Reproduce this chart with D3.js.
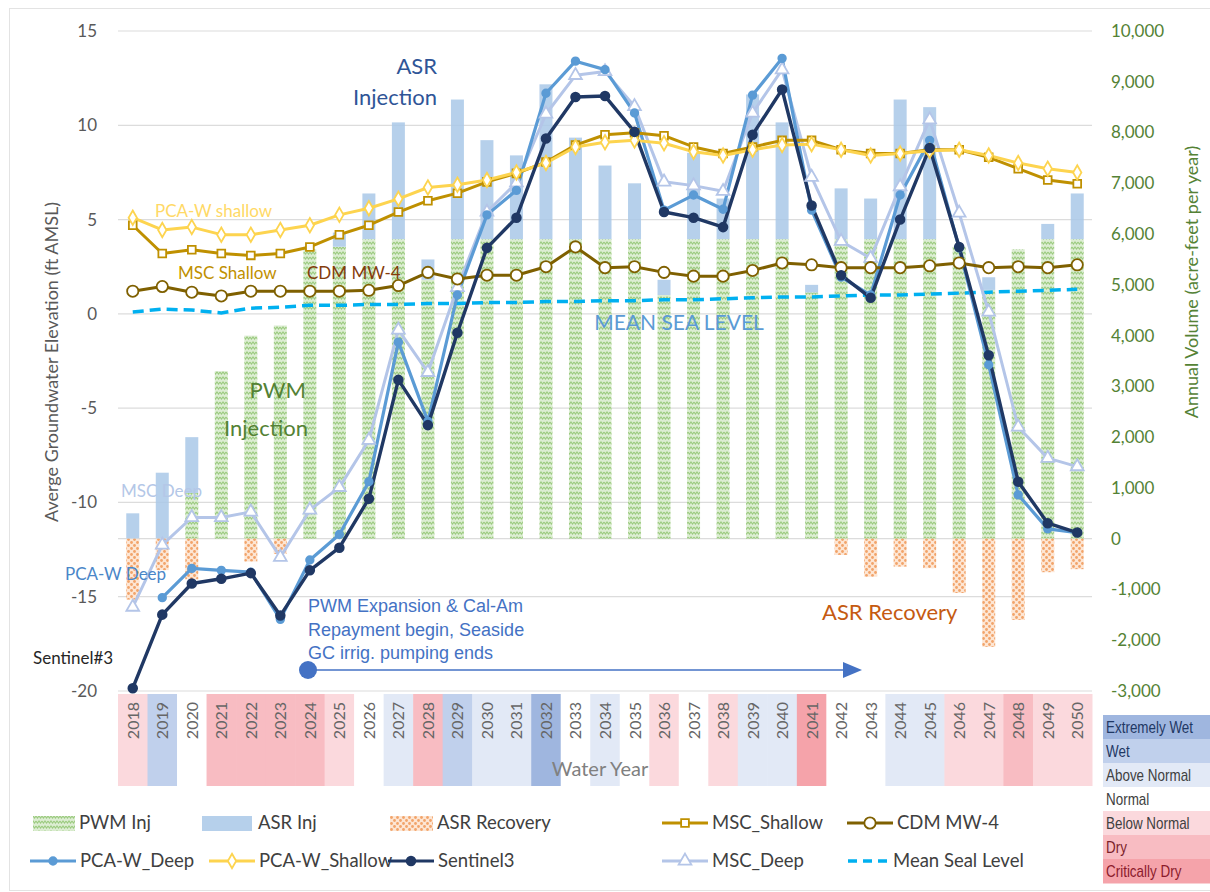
<!DOCTYPE html>
<html>
<head>
<meta charset="utf-8">
<script src="https://cdn.jsdelivr.net/npm/d3@7"></script>
<style>
  body { margin: 0; background: #fff; }
</style>
</head>
<body>
<script>
// water years and their type
var years = d3.range(2018, 2051);
var yearType = ["Below Normal", "Wet", "Normal", "Dry", "Dry", "Dry", "Dry", "Below Normal", "Normal", "Above Normal",
  "Dry", "Wet", "Above Normal", "Above Normal", "Extremely Wet", "Normal", "Above Normal", "Normal", "Below Normal", "Normal",
  "Below Normal", "Above Normal", "Above Normal", "Critically Dry", "Normal", "Normal", "Above Normal", "Above Normal", "Below Normal", "Below Normal",
  "Dry", "Below Normal", "Below Normal"];

// annual volumes (acre-feet per year)
var pwmInj = [0, 0, 900, 3300, 4000, 4200, 5700, 5750, 5900, 5900, 5100, 5900, 5900, 5900, 5900, 5900, 5900, 5900, 4800, 5900,
  5900, 5900, 5900, 4850, 5900, 5900, 5900, 5900, 5750, 4900, 5700, 5900, 5900];
var asrInj = [500, 1300, 1100, 0, 0, 0, 0, 280, 900, 2300, 400, 2750, 1950, 1650, 3050, 2000, 1450, 1100, 300, 1700,
  800, 2850, 2300, 150, 1000, 800, 2750, 2600, 0, 250, 0, 300, 900];
var asrRecovery = [-1200, -620, -800, 0, -450, -300, 0, 0, 0, 0, 0, 0, 0, 0, 0, 0, 0, 0, 0, 0,
  0, 0, 0, 0, -320, -750, -550, -580, -1070, -2130, -1600, -660, -600];

// groundwater elevations (ft AMSL)
var pcaDeep = [null, -15.05, -13.5, -13.6, -13.7, -16.2, -13.05, -11.7, -8.9, -1.5, -5.7, 1.0, 5.25, 6.55, 11.7, 13.4, 12.95, 10.65, 5.5, 6.3,
  5.55, 11.6, 13.55, 5.5, 1.95, 1.0, 6.3, 9.2, 3.5, -2.7, -9.6, -11.4, -11.6];
var pcaShallow = [5.1, 4.45, 4.6, 4.2, 4.2, 4.45, 4.7, 5.25, 5.6, 6.1, 6.7, 6.85, 7.1, 7.5, 8.0, 8.85, 9.1, 9.2, 9.05, 8.6,
  8.4, 8.7, 8.95, 9.0, 8.7, 8.4, 8.5, 8.65, 8.7, 8.4, 8.0, 7.7, 7.5];
var sentinel3 = [-19.85, -15.95, -14.3, -14.05, -13.75, -16.0, -13.6, -12.4, -9.8, -3.5, -5.9, -1.0, 3.5, 5.1, 9.3, 11.5, 11.55, 9.65, 5.4, 5.1,
  4.6, 9.5, 11.9, 5.75, 2.05, 0.85, 5.0, 8.8, 3.55, -2.2, -8.9, -11.1, -11.6];
var mscShallow = [4.7, 3.2, 3.4, 3.2, 3.1, 3.2, 3.55, 4.2, 4.7, 5.4, 6.0, 6.4, 7.0, 7.45, 8.05, 8.95, 9.5, 9.6, 9.45, 8.85,
  8.5, 8.85, 9.2, 9.2, 8.7, 8.5, 8.5, 8.7, 8.7, 8.3, 7.7, 7.1, 6.9];
var mscDeep = [-15.55, -12.25, -10.8, -10.8, -10.5, -12.9, -10.4, -9.2, -6.7, -0.85, -3.1, 1.4, 5.4, 6.95, 10.6, 12.65, 12.85, 11.0, 7.0, 6.8,
  6.5, 10.65, 12.95, 7.25, 3.85, 2.95, 6.75, 10.3, 5.35, 0.1, -6.0, -7.65, -8.1];
var cdmMw4 = [1.2, 1.45, 1.15, 0.95, 1.2, 1.2, 1.2, 1.2, 1.25, 1.5, 2.2, 1.85, 2.05, 2.05, 2.5, 3.55, 2.45, 2.5, 2.2, 2.0,
  2.0, 2.3, 2.7, 2.6, 2.45, 2.45, 2.45, 2.55, 2.7, 2.45, 2.5, 2.45, 2.6];
var meanSeaLevel = [0.1, 0.25, 0.2, 0.05, 0.3, 0.35, 0.45, 0.45, 0.5, 0.5, 0.55, 0.55, 0.6, 0.6, 0.65, 0.65, 0.7, 0.7, 0.75, 0.75,
  0.8, 0.85, 0.9, 0.9, 0.95, 1.0, 1.0, 1.05, 1.1, 1.15, 1.2, 1.25, 1.3];

var leftTicks = [15, 10, 5, 0, -5, -10, -15, -20];
var rightTicks = d3.range(-3000, 10001, 1000);
var typeNames = ["Extremely Wet", "Wet", "Above Normal", "Normal", "Below Normal", "Dry", "Critically Dry"];
var typeColors = ["#9fb6df", "#c0d0ec", "#e2e9f6", "#ffffff", "#fbd9dd", "#f8bcc2", "#f5a3aa"];
var typeText = ["#1f3864", "#1f3864", "#404040", "#404040", "#404040", "#7b1f2a", "#8b1a2a"];

var W = 1210, H = 892;
var margin = {top: 31, left: 118, right: 118, bottom: 201};
var width = W - margin.left - margin.right,
    height = H - margin.top - margin.bottom;

var svg = d3.select("body").append("svg")
    .attr("width", W).attr("height", H)
    .style("font-family", "Lato, 'Open Sans', sans-serif");

var defs = svg.append("defs");
var pw = defs.append("pattern").attr("id", "pwm").attr("width", 6).attr("height", 5)
    .attr("patternUnits", "userSpaceOnUse");
pw.append("rect").attr("width", 6).attr("height", 5).attr("fill", "#dcedd2");
pw.append("path").attr("d", "M0,1 L1.5,3 L3,1 L4.5,3 L6,1").attr("fill", "none")
    .attr("stroke", "#9ccb80").attr("stroke-width", 1.1);
var rp = defs.append("pattern").attr("id", "rec").attr("width", 6).attr("height", 6)
    .attr("patternUnits", "userSpaceOnUse");
rp.append("rect").attr("width", 6).attr("height", 6).attr("fill", "#fde6d4");
rp.append("circle").attr("cx", 1.5).attr("cy", 1.5).attr("r", 1.4).attr("fill", "#f2a46a");
rp.append("circle").attr("cx", 4.5).attr("cy", 4.5).attr("r", 1.4).attr("fill", "#f2a46a");

// outer frame
svg.append("rect").attr("x", 9.5).attr("y", 8.5).attr("width", 1220).attr("height", 882)
    .attr("fill", "none").attr("stroke", "#e3e3e3");

var g = svg.append("g").attr("transform", "translate(" + margin.left + "," + margin.top + ")");

var x = d3.scaleBand().domain(years).range([0, width]);
var yL = d3.scaleLinear().domain([-20, 15]).range([height, 0]);
var yR = d3.scaleLinear().domain([-3000, 10000]).range([height, 0]);
var bw = 13, bx = function(i) { return x(years[i]) + (x.bandwidth() - bw) / 2; };
var cx = function(i) { return x(years[i]) + x.bandwidth() / 2; };
var hyphen = function(f) { return function(d) { return f(d).replace("\u2212", "-"); }; };

// gridlines
g.selectAll(".grid").data(leftTicks).enter().append("line")
    .attr("x1", 0).attr("x2", width)
    .attr("y1", function(d) { return yL(d); }).attr("y2", function(d) { return yL(d); })
    .attr("stroke", "#dcdcdc").attr("stroke-width", 1.2);
g.append("line").attr("x1", 0).attr("x2", width).attr("y1", yR(0)).attr("y2", yR(0))
    .attr("stroke", "#dcdcdc").attr("stroke-width", 1.2);

// left axis
var axL = g.append("g").attr("transform", "translate(-21,0)")
    .call(d3.axisLeft(yL).tickValues(leftTicks).tickSize(0).tickPadding(0).tickFormat(hyphen(d3.format("d"))));
axL.select(".domain").remove();
axL.selectAll("text").attr("font-size", 17).attr("fill", "#595959").style("font-family", "Lato");

// right axis
var axR = g.append("g").attr("transform", "translate(" + (width + 19) + ",0)")
    .call(d3.axisRight(yR).tickValues(rightTicks).tickSize(0).tickPadding(0).tickFormat(hyphen(d3.format(","))));
axR.select(".domain").remove();
axR.selectAll("text").attr("font-size", 17).attr("fill", "#548235").style("font-family", "Lato");

// water-year strip
var strip = g.append("g").attr("transform", "translate(0," + (height + 3) + ")");
strip.selectAll("rect").data(years).enter().append("rect")
    .attr("x", function(d) { return x(d); }).attr("y", 0)
    .attr("width", x.bandwidth() + 0.5).attr("height", 92)
    .attr("fill", function(d, i) { return typeColors[typeNames.indexOf(yearType[i])]; });
strip.selectAll("text").data(years).enter().append("text")
    .attr("transform", function(d, i) { return "translate(" + (cx(i) + 6) + ",8) rotate(-90)"; })
    .attr("text-anchor", "end").attr("font-size", 16).attr("fill", "#666")
    .text(function(d) { return d; });
strip.append("text").attr("x", 482).attr("y", 82).attr("text-anchor", "middle")
    .attr("font-size", 20).attr("fill", "#808080").text("Water Year");

// bars
g.selectAll(".pwm").data(pwmInj).enter().append("rect")
    .attr("x", function(d, i) { return bx(i); }).attr("width", bw)
    .attr("y", function(d) { return yR(d); })
    .attr("height", function(d) { return yR(0) - yR(d); })
    .attr("fill", "url(#pwm)");
g.selectAll(".asr").data(asrInj).enter().append("rect")
    .attr("x", function(d, i) { return bx(i); }).attr("width", bw)
    .attr("y", function(d, i) { return yR(pwmInj[i] + d); })
    .attr("height", function(d, i) { return yR(pwmInj[i]) - yR(pwmInj[i] + d); })
    .attr("fill", "#a9c8e8").attr("opacity", 0.85);
g.selectAll(".rec").data(asrRecovery).enter().append("rect")
    .attr("x", function(d, i) { return bx(i); }).attr("width", bw)
    .attr("y", yR(0))
    .attr("height", function(d) { return yR(d) - yR(0); })
    .attr("fill", "url(#rec)");

// lines
var series = [
  {name: "MSC_Deep", v: mscDeep, color: "#b4c5e8", sym: d3.symbolTriangle, size: 70, fill: "#fff", w: 3},
  {name: "PCA-W_Deep", v: pcaDeep, color: "#5b9bd5", sym: d3.symbolCircle, size: 45, fill: "#5b9bd5", w: 3.2},
  {name: "MSC_Shallow", v: mscShallow, color: "#bf9000", sym: d3.symbolSquare, size: 60, fill: "#fff", w: 3},
  {name: "PCA-W_Shallow", v: pcaShallow, color: "#fdd44f", sym: d3.symbolDiamond, size: 60, fill: "#fff", w: 3},
  {name: "CDM MW-4", v: cdmMw4, color: "#7f6000", sym: d3.symbolCircle, size: 100, fill: "#fff", w: 3},
  {name: "Sentinel3", v: sentinel3, color: "#203864", sym: d3.symbolCircle, size: 60, fill: "#203864", w: 3.4}
];
var line = d3.line().defined(function(d) { return d != null; })
    .x(function(d, i) { return cx(i); }).y(function(d) { return yL(d); });

g.append("path").datum(meanSeaLevel).attr("d", line).attr("fill", "none")
    .attr("stroke", "#00b0f0").attr("stroke-width", 3.5).attr("stroke-dasharray", "11,6");

series.forEach(function(s) {
  g.append("path").datum(s.v).attr("d", line).attr("fill", "none")
      .attr("stroke", s.color).attr("stroke-width", s.w).attr("stroke-linejoin", "round");
});
// markers
series.forEach(function(s) {
  var pts = s.v.map(function(d, i) { return {d: d, i: i}; }).filter(function(p) { return p.d != null; });
  g.selectAll(null).data(pts).enter().append("path")
      .attr("d", d3.symbol().type(s.sym).size(s.size))
      .attr("transform", function(p) { return "translate(" + cx(p.i) + "," + yL(p.d) + ")"; })
      .attr("fill", s.fill).attr("stroke", s.color).attr("stroke-width", 1.8);
});

// axis titles
svg.append("text").attr("transform", "translate(58,362) rotate(-90)").attr("text-anchor", "middle")
    .attr("font-size", 18).attr("fill", "#595959").text("Averge Groundwater Elevation (ft AMSL)");
svg.append("text").attr("transform", "translate(1198,282) rotate(-90)").attr("text-anchor", "middle")
    .attr("font-size", 18).attr("fill", "#548235").text("Annual Volume (acre-feet per year)");

// annotations
function note(tx, ty, str, size, color, anchor, fam) {
  svg.append("text").attr("x", tx).attr("y", ty).attr("font-size", size).attr("fill", color)
      .attr("text-anchor", anchor || "start").style("font-family", fam || "Lato").text(str);
}
note(437, 74, "ASR", 22, "#2f5597", "end");
note(437, 105, "Injection", 22, "#2f5597", "end");
note(155, 217, "PCA-W shallow", 17, "#ffd966");
note(178, 279, "MSC Shallow", 17, "#bf9000");
note(307, 279, "CDM MW-4", 17, "#843c0c");
note(679, 330, "MEAN SEA LEVEL", 21, "#5b9bd5", "middle");
note(306, 398, "PWM", 22, "#548235", "end");
note(308, 436, "Injection", 22, "#548235", "end");
note(121, 497, "MSC Deep", 17, "#b4c7e7");
note(65, 580, "PCA-W Deep", 17, "#4a86c8");
note(33, 664, "Sentinel#3", 17, "#262626");
note(822, 620, "ASR Recovery", 22, "#c55a11");
note(308, 612, "PWM Expansion & Cal-Am", 18, "#4472c4", "start", "Liberation Sans");
note(308, 636, "Repayment begin, Seaside", 18, "#4472c4", "start", "Liberation Sans");
note(308, 659, "GC irrig. pumping ends", 18, "#4472c4", "start", "Liberation Sans");
svg.append("line").attr("x1", 308).attr("x2", 845).attr("y1", 670).attr("y2", 670)
    .attr("stroke", "#4472c4").attr("stroke-width", 1.3);
svg.append("path").attr("d", "M843,662 L862,670 L843,678 Z").attr("fill", "#4472c4");
svg.append("circle").attr("cx", 308).attr("cy", 670).attr("r", 9).attr("fill", "#4472c4");

// legend
var leg = svg.append("g").attr("font-size", 18.5);
function legText(tx, ty, str) {
  leg.append("text").attr("x", tx).attr("y", ty + 6).attr("fill", "#404040").text(str);
}
leg.append("rect").attr("x", 33).attr("y", 816).attr("width", 42).attr("height", 15).attr("fill", "url(#pwm)");
legText(79, 823, "PWM Inj");
leg.append("rect").attr("x", 202).attr("y", 816).attr("width", 50).attr("height", 15).attr("fill", "#a9c8e8").attr("opacity", 0.85);
legText(258, 823, "ASR Inj");
leg.append("rect").attr("x", 390).attr("y", 816).attr("width", 43).attr("height", 15).attr("fill", "url(#rec)");
legText(437, 823, "ASR Recovery");
var legLines = [
  {s: series[2], x: 662, y: 823}, {s: series[4], x: 847, y: 823},
  {s: series[1], x: 30, y: 861}, {s: series[3], x: 209, y: 861},
  {s: series[5], x: 388, y: 861}, {s: series[0], x: 662, y: 861}
];
legLines.forEach(function(l) {
  leg.append("line").attr("x1", l.x).attr("x2", l.x + 46).attr("y1", l.y).attr("y2", l.y)
      .attr("stroke", l.s.color).attr("stroke-width", 3);
  leg.append("path").attr("d", d3.symbol().type(l.s.sym).size(l.s.size))
      .attr("transform", "translate(" + (l.x + 23) + "," + l.y + ")")
      .attr("fill", l.s.fill).attr("stroke", l.s.color).attr("stroke-width", 1.8);
  legText(l.x + 50, l.y, l.s.name);
});
leg.append("line").attr("x1", 848).attr("x2", 890).attr("y1", 861).attr("y2", 861)
    .attr("stroke", "#00b0f0").attr("stroke-width", 3.5).attr("stroke-dasharray", "9,6");
legText(893, 861, "Mean Seal Level");

// water-year type key
var key = svg.append("g").attr("transform", "translate(1103,715)");
key.selectAll("rect").data(typeNames).enter().append("rect")
    .attr("x", 0).attr("y", function(d, i) { return i * 24; })
    .attr("width", 120).attr("height", 24.5)
    .attr("fill", function(d, i) { return typeColors[i]; });
key.selectAll("text").data(typeNames).enter().append("text")
    .attr("transform", function(d, i) { return "translate(3," + (i * 24 + 18) + ") scale(0.84,1)"; })
    .style("font-family", "'Liberation Sans', Arial, sans-serif").attr("font-size", 16)
    .attr("fill", function(d, i) { return typeText[i]; })
    .text(function(d) { return d; });
</script>
</body>
</html>
